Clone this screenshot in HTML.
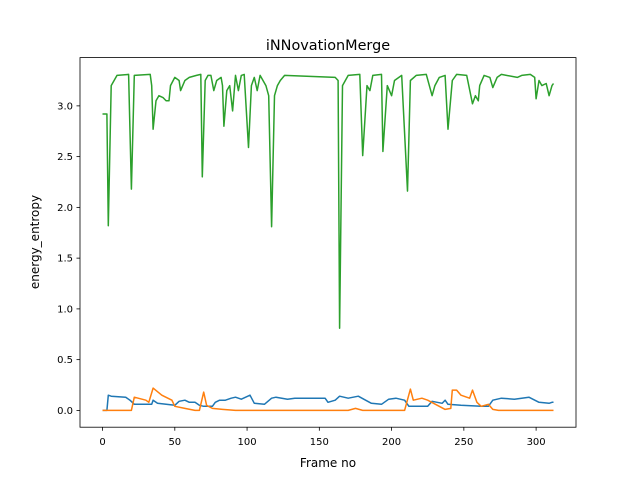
<!DOCTYPE html>
<html><head><meta charset="utf-8"><style>
body{margin:0;background:#fff;font-family:"Liberation Sans","DejaVu Sans",sans-serif}
svg text{font-family:"DejaVu Sans","Liberation Sans",sans-serif}
</style></head><body>
<svg id="chart" width="640" height="480" xmlns="http://www.w3.org/2000/svg">
<rect width="640" height="480" fill="#fff"/>
<text x="328" y="50" font-size="14.4" text-anchor="middle">iNNovationMerge</text>
<g id="plot"></g>
<rect x="80" y="57.6" width="496" height="369.6" fill="none" stroke="#000" stroke-width="0.8"/>
<g id="xt"></g><g id="yt"></g>
<text x="328" y="467" font-size="12" text-anchor="middle">Frame no</text>
<text transform="translate(39,242) rotate(-90)" font-size="12" text-anchor="middle">energy_entropy</text>
</svg>
<script>
const xTicks=[0,50,100,150,200,250,300];
const yTicks=[0.0,0.5,1.0,1.5,2.0,2.5,3.0];
const blueFrames=[0,3,4,6,16,19,22,34,35,38,50,53,57,60,64,67,70,76,78,81,85,89,92,96,102,105,112,117,120,124,128,133,142,154,156,161,164,170,177,182,186,193,198,203,209,212,225,228,235,237,239,248,262,267,270,276,285,295,302,309,311,312];
const blueValues=[0,0,0.15,0.14,0.13,0.1,0.06,0.06,0.1,0.07,0.05,0.09,0.1,0.08,0.08,0.05,0.04,0.04,0.08,0.1,0.1,0.12,0.13,0.11,0.15,0.07,0.06,0.12,0.13,0.12,0.11,0.12,0.12,0.12,0.08,0.1,0.14,0.12,0.14,0.1,0.07,0.06,0.11,0.12,0.1,0.04,0.04,0.09,0.07,0.1,0.06,0.05,0.04,0.04,0.1,0.12,0.11,0.13,0.08,0.07,0.08,0.08];
const orangeFrames=[0,20,22,30,32,35,41,48,50,57,64,67,70,72,76,83,92,170,175,180,209,213,215,221,225,237,241,242,245,248,254,256,259,262,267,270,274,312];
const orangeValues=[0,0,0.13,0.1,0.08,0.22,0.15,0.1,0.04,0.02,0,0,0.18,0.05,0.02,0.01,0,0,0.02,0,0,0.21,0.1,0.12,0.1,0.01,0.02,0.2,0.2,0.15,0.12,0.2,0.08,0.04,0.06,0.01,0,0];
const greenFrames=[0,3,4,6,10,18,20,22,33,34,35,37,39,42,44,46,47,50,53,54,57,60,65,68,69,71,73,75,77,79,82,83,84,86,88,90,92,94,96,98,101,103,105,107,109,111,113,115,117,119,121,123,126,161,163,164,166,170,178,180,183,185,187,193,194,197,200,202,207,211,213,217,224,228,230,233,237,239,242,245,252,256,258,260,261,264,268,270,273,276,287,290,296,299,300,302,304,307,309,311,312];
const greenValues=[2.92,2.92,1.82,3.2,3.3,3.31,2.18,3.3,3.31,3.2,2.77,3.05,3.1,3.08,3.05,3.05,3.2,3.28,3.25,3.15,3.25,3.28,3.3,3.31,2.3,3.25,3.3,3.3,3.15,3.25,3.28,3.2,2.8,3.15,3.2,2.95,3.3,3.15,3.3,3.31,2.59,3.2,3.28,3.15,3.3,3.25,3.2,3.1,1.81,3.1,3.2,3.25,3.3,3.28,3.25,0.81,3.2,3.3,3.31,2.51,3.2,3.15,3.3,3.31,2.55,3.2,3.1,3.25,3.3,2.16,3.25,3.3,3.31,3.1,3.2,3.28,3.3,2.77,3.25,3.31,3.3,3.02,3.1,3.05,3.2,3.3,3.28,3.18,3.28,3.31,3.28,3.3,3.31,3.28,3.07,3.25,3.2,3.22,3.1,3.2,3.22];
const NS="http://www.w3.org/2000/svg";
const xMin=-15.6,xMax=327.6,yMin=-0.1655,yMax=3.4755;
const X=v=>80+(v-xMin)/(xMax-xMin)*496;
const Y=v=>427.2-(v-yMin)/(yMax-yMin)*369.6;
const plot=document.getElementById('plot');
function line(fr,vals,color,name){
  const p=document.createElementNS(NS,'path');
  p.setAttribute('d',fr.map((f,i)=>(i?'L':'M')+X(f).toFixed(1)+','+Y(vals[i]).toFixed(1)).join(''));
  p.setAttribute('fill','none');p.setAttribute('stroke',color);p.setAttribute('stroke-width','1.5');
  p.setAttribute('stroke-linejoin','round');
  
  
  plot.appendChild(p);
}
line(blueFrames,blueValues,'#1f77b4','series-blue-line');
line(orangeFrames,orangeValues,'#ff7f0e','series-orange-line');
line(greenFrames,greenValues,'#2ca02c','series-green-line');
const xt=document.getElementById('xt'),yt=document.getElementById('yt');
xTicks.forEach(t=>{
  const x=X(t);
  const l=document.createElementNS(NS,'line');
  l.setAttribute('x1',x);l.setAttribute('x2',x);l.setAttribute('y1',427.2);l.setAttribute('y2',430.7);l.setAttribute('stroke','#000');l.setAttribute('stroke-width','0.8');
  
  
  xt.appendChild(l);
  const s=document.createElementNS(NS,'text');
  s.setAttribute('x',x);s.setAttribute('y',445);s.setAttribute('font-size','10');s.setAttribute('text-anchor','middle');
  s.textContent=t;
  
  
  xt.appendChild(s);
});
yTicks.forEach(t=>{
  const y=Y(t);
  const l=document.createElementNS(NS,'line');
  l.setAttribute('x1',76.5);l.setAttribute('x2',80);l.setAttribute('y1',y);l.setAttribute('y2',y);l.setAttribute('stroke','#000');l.setAttribute('stroke-width','0.8');
  
  
  yt.appendChild(l);
  const s=document.createElementNS(NS,'text');
  s.setAttribute('x',73);s.setAttribute('y',y+3.5);s.setAttribute('font-size','10');s.setAttribute('text-anchor','end');
  s.textContent=t.toFixed(1);
  
  
  yt.appendChild(s);
});
</script>
</body></html>
